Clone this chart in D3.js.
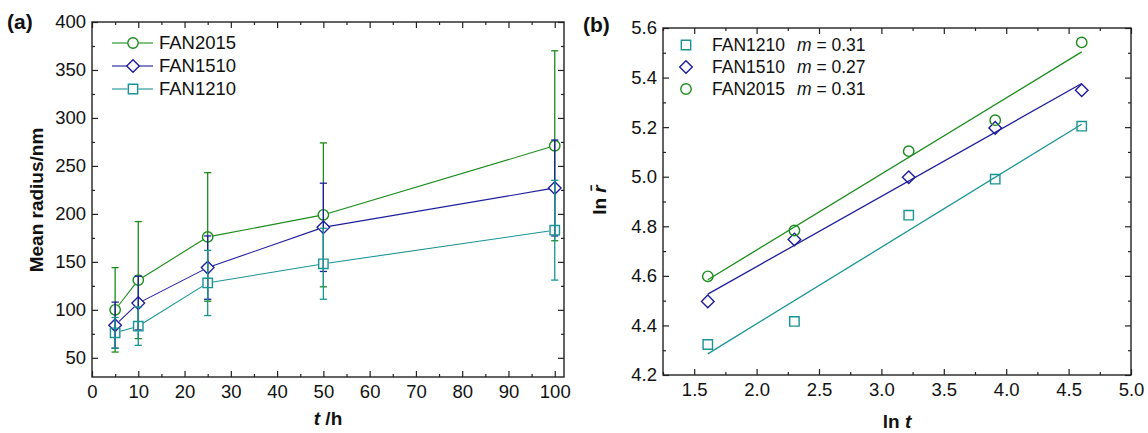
<!DOCTYPE html>
<meta charset="utf-8">
<script src="https://cdn.jsdelivr.net/npm/d3@7"></script>
<style>
  body { margin: 0; background: #fff; }
  text { font-family: "Liberation Sans", Arial, sans-serif; fill: #111; }
</style>
<div id="chart"></div>
<script>

// ---- data, panel (a): mean radius vs time ----
var tHours = [5, 10, 25, 50, 100];
var r2015 = [100, 131, 176, 199, 271];
var e2015 = [44, 61, 67, 75, 99];
var r1510 = [84, 107, 144, 186, 227];
var e1510 = [24, 28, 33, 46, 50];
var r1210 = [76, 83, 128, 148, 183];
var e1210 = [16, 20, 34, 37, 52];

// ---- data, panel (b): ln r vs ln t ----
var lnT = [1.609, 2.303, 3.219, 3.912, 4.605];
var lnR1210 = [4.323, 4.416, 4.845, 4.990, 5.204];
var lnR1510 = [4.497, 4.747, 4.998, 5.197, 5.349];
var lnR2015 = [4.598, 4.783, 5.103, 5.228, 5.542];
var slopeLabels = ["0.31", "0.27", "0.31"];

// tick values
var ticksXA = d3.range(0, 101, 10);
var minorXA = d3.range(5, 101, 10);
var ticksYA = d3.range(50, 401, 50);
var minorYA = d3.range(75, 400, 50);
var ticksXB = [1.5, 2.0, 2.5, 3.0, 3.5, 4.0, 4.5, 5.0];
var minorXB = [1.25, 1.75, 2.25, 2.75, 3.25, 3.75, 4.25, 4.75];
var ticksYB = [4.2, 4.4, 4.6, 4.8, 5.0, 5.2, 5.4, 5.6];
var minorYB = [4.3, 4.5, 4.7, 4.9, 5.1, 5.3, 5.5];

var green = "#1a8c1a", blue = "#1e1e9c", teal = "#1a9494";

var seriesA = [
  {name: "FAN2015", y: r2015, err: e2015, color: green, shape: "circle"},
  {name: "FAN1510", y: r1510, err: e1510, color: blue, shape: "diamond"},
  {name: "FAN1210", y: r1210, err: e1210, color: teal, shape: "square"}
];
var seriesB = [
  {name: "FAN1210", y: lnR1210, m: slopeLabels[0], color: teal, shape: "square"},
  {name: "FAN1510", y: lnR1510, m: slopeLabels[1], color: blue, shape: "diamond"},
  {name: "FAN2015", y: lnR2015, m: slopeLabels[2], color: green, shape: "circle"}
];

var svg = d3.select("#chart").append("svg")
    .attr("width", 1148)
    .attr("height", 433);

var fs = 18.5;

// marker path centred at 0,0
function marker(shape) {
  if (shape == "circle") {
    var r = 5.2;
    return "M" + r + ",0A" + r + "," + r + " 0 1,1 " + (-r) + ",0A" + r + "," + r + " 0 1,1 " + r + ",0Z";
  }
  if (shape == "diamond") {
    var d = 6.3;
    return "M0," + (-d) + "L" + d + ",0L0," + d + "L" + (-d) + ",0Z";
  }
  var s = 4.7;
  return "M" + (-s) + "," + (-s) + "H" + s + "V" + s + "H" + (-s) + "Z";
}

// draws the box frame with inward ticks on all four sides
function frame(x, y, tx, mx, ty, my, fmtX, fmtY) {
  var x0 = x.range()[0], x1 = x.range()[1], y0 = y.range()[0], y1 = y.range()[1];
  var g = svg.append("g");

  function addAxis(axis, tx, ty, labels) {
    var a = g.append("g").attr("transform", "translate(" + tx + "," + ty + ")").call(axis);
    a.select(".domain").remove();
    a.selectAll("line").attr("stroke", "#222").attr("stroke-width", 1.2);
    a.selectAll("text").attr("font-size", fs).attr("font-family", "Liberation Sans, Arial, sans-serif").attr("fill", "#111");
    if (!labels) a.selectAll("text").remove();
    return a;
  }

  addAxis(d3.axisBottom(x).tickValues(tx).tickSizeInner(-6).tickSizeOuter(0).tickPadding(8).tickFormat(fmtX), 0, y0, true);
  addAxis(d3.axisBottom(x).tickValues(mx).tickSizeInner(-3).tickSizeOuter(0), 0, y0, false);
  addAxis(d3.axisTop(x).tickValues(tx).tickSizeInner(-6).tickSizeOuter(0), 0, y1, false);
  addAxis(d3.axisTop(x).tickValues(mx).tickSizeInner(-3).tickSizeOuter(0), 0, y1, false);
  addAxis(d3.axisLeft(y).tickValues(ty).tickSizeInner(-6).tickSizeOuter(0).tickPadding(6).tickFormat(fmtY), x0, 0, true);
  addAxis(d3.axisLeft(y).tickValues(my).tickSizeInner(-3).tickSizeOuter(0), x0, 0, false);
  addAxis(d3.axisRight(y).tickValues(ty).tickSizeInner(-6).tickSizeOuter(0), x1, 0, false);
  addAxis(d3.axisRight(y).tickValues(my).tickSizeInner(-3).tickSizeOuter(0), x1, 0, false);

  g.append("rect")
    .attr("x", x0).attr("y", y1)
    .attr("width", x1 - x0).attr("height", y0 - y1)
    .attr("fill", "none").attr("stroke", "#222").attr("stroke-width", 1.4);
}

// ================= panel (a) =================
var xa = d3.scaleLinear().domain([0, 102]).range([92, 564]);
var ya = d3.scaleLinear().domain([30, 400]).range([377, 22]);

frame(xa, ya, ticksXA, minorXA, ticksYA, minorYA, d3.format("d"), d3.format("d"));

var line = d3.line();

seriesA.forEach(function(s) {
  var g = svg.append("g");
  var pts = tHours.map(function(t, i) { return [xa(t), ya(s.y[i])]; });

  // error bars
  tHours.forEach(function(t, i) {
    var cx = xa(t), top = ya(s.y[i] + s.err[i]), bot = ya(s.y[i] - s.err[i]);
    g.append("line").attr("x1", cx).attr("x2", cx).attr("y1", top).attr("y2", bot)
      .attr("stroke", s.color).attr("stroke-width", 1.3);
    [top, bot].forEach(function(yy) {
      g.append("line").attr("x1", cx - 3.6).attr("x2", cx + 3.6).attr("y1", yy).attr("y2", yy)
        .attr("stroke", s.color).attr("stroke-width", 1.3);
    });
  });

  // connecting segments, stopping at marker edges
  for (var i = 0; i < pts.length - 1; i++) {
    var p = pts[i], q = pts[i + 1];
    var dx = q[0] - p[0], dy = q[1] - p[1], L = Math.sqrt(dx * dx + dy * dy), gap = 5.5;
    g.append("line")
      .attr("x1", p[0] + dx / L * gap).attr("y1", p[1] + dy / L * gap)
      .attr("x2", q[0] - dx / L * gap).attr("y2", q[1] - dy / L * gap)
      .attr("stroke", s.color).attr("stroke-width", 1.1);
  }

  g.selectAll("path.mk").data(pts).enter().append("path")
    .attr("class", "mk")
    .attr("d", marker(s.shape))
    .attr("transform", function(d) { return "translate(" + d[0] + "," + d[1] + ")"; })
    .attr("fill", "none").attr("stroke", s.color).attr("stroke-width", 1.4);
});

// legend (a)
var legA = svg.append("g");
seriesA.forEach(function(s, i) {
  var yy = 43 + i * 23;
  legA.append("line").attr("x1", 112).attr("x2", 127.5).attr("y1", yy).attr("y2", yy)
    .attr("stroke", s.color).attr("stroke-width", 1.1);
  legA.append("line").attr("x1", 138.5).attr("x2", 153).attr("y1", yy).attr("y2", yy)
    .attr("stroke", s.color).attr("stroke-width", 1.1);
  legA.append("path").attr("d", marker(s.shape)).attr("transform", "translate(133," + yy + ")")
    .attr("fill", "none").attr("stroke", s.color).attr("stroke-width", 1.4);
  legA.append("text").attr("x", 159).attr("y", yy).attr("dy", "0.35em")
    .attr("font-size", fs).text(s.name);
});

// axis titles (a)
svg.append("text")
  .attr("transform", "translate(43,200) rotate(-90)")
  .attr("text-anchor", "middle").attr("font-size", 19).attr("font-weight", "bold")
  .text("Mean radius/nm");

var xtA = svg.append("text").attr("x", 328).attr("y", 425)
  .attr("text-anchor", "middle").attr("font-size", 19).attr("font-weight", "bold");
xtA.append("tspan").attr("font-style", "italic").text("t");
xtA.append("tspan").text(" /h");

svg.append("text").attr("x", 7).attr("y", 29)
  .attr("font-size", 21).attr("font-weight", "bold").text("(a)");

// ================= panel (b) =================
var xb = d3.scaleLinear().domain([1.25, 5.0]).range([663, 1131]);
var yb = d3.scaleLinear().domain([4.2, 5.6]).range([375, 28]);

frame(xb, yb, ticksXB, minorXB, ticksYB, minorYB, d3.format(".1f"), d3.format(".1f"));

seriesB.forEach(function(s) {
  var g = svg.append("g");
  // least-squares fit line across the measured range
  var mx = d3.mean(lnT), my = d3.mean(s.y);
  var sxy = d3.sum(lnT, function(v, i) { return (v - mx) * (s.y[i] - my); });
  var sxx = d3.sum(lnT, function(v) { return (v - mx) * (v - mx); });
  var k = sxy / sxx, b0 = my - k * mx;
  var ends = d3.extent(lnT);
  g.append("path")
    .attr("d", line(ends.map(function(v) { return [xb(v), yb(b0 + k * v)]; })))
    .attr("fill", "none").attr("stroke", s.color).attr("stroke-width", 1.3);

  g.selectAll("path.mk").data(lnT).enter().append("path")
    .attr("class", "mk")
    .attr("d", marker(s.shape))
    .attr("transform", function(d, i) { return "translate(" + xb(d) + "," + yb(s.y[i]) + ")"; })
    .attr("fill", "none").attr("stroke", s.color).attr("stroke-width", 1.4);
});

// legend (b)
var legB = svg.append("g");
seriesB.forEach(function(s, i) {
  var yy = 45 + i * 22;
  legB.append("path").attr("d", marker(s.shape)).attr("transform", "translate(686," + yy + ")")
    .attr("fill", "none").attr("stroke", s.color).attr("stroke-width", 1.4);
  legB.append("text").attr("x", 712).attr("y", yy).attr("dy", "0.35em")
    .attr("font-size", 17.5).text(s.name);
  var t = legB.append("text").attr("x", 797).attr("y", yy).attr("dy", "0.35em").attr("font-size", 17.5);
  t.append("tspan").attr("font-style", "italic").text("m");
  t.append("tspan").text(" = " + s.m);
});

// axis titles (b)
var ytB = svg.append("text")
  .attr("transform", "translate(606,200) rotate(-90)")
  .attr("text-anchor", "middle").attr("font-size", 19).attr("font-weight", "bold");
ytB.append("tspan").text("ln ");
ytB.append("tspan").attr("font-style", "italic").text("r\u0304");

var xtB = svg.append("text").attr("x", 897).attr("y", 428)
  .attr("text-anchor", "middle").attr("font-size", 19).attr("font-weight", "bold");
xtB.append("tspan").text("ln ");
xtB.append("tspan").attr("font-style", "italic").text("t");

svg.append("text").attr("x", 583).attr("y", 32)
  .attr("font-size", 21).attr("font-weight", "bold").text("(b)");

</script>
